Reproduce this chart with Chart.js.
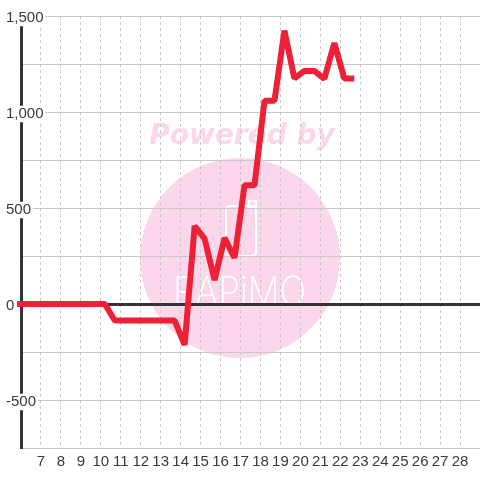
<!DOCTYPE html>
<html>
<head>
<meta charset="utf-8">
<script src="https://cdn.jsdelivr.net/npm/chart.js@4"></script>
<style>
  html, body { margin: 0; padding: 0; background: #fff; }
  #wrap { width: 480px; height: 480px; }
</style>
</head>
<body>
<div id="wrap"><canvas id="chart"></canvas></div>
<script>
// data (x = day of month, y = value)
const days   = [5.8, 10.2, 10.7, 13.7, 14.2, 14.7, 15.2, 15.7, 16.2, 16.7, 17.2, 17.7, 18.2, 18.7, 19.2, 19.7, 20.2, 20.7, 21.2, 21.7, 22.2, 22.7];
const values = [0,   0,    -86,  -86,  -213, 406,  340,  125,  344,  240,  618,  618,  1058, 1058, 1424, 1175, 1214, 1214, 1173, 1359, 1175, 1175];

const xMin = 6, xMax = 29;
const yMin = -750, yMax = 1500, yStep = 250, yLabelStep = 500;

const RED = '#ee2036';
const DARK = '#333333';
const GRID = '#c8c8c8';
const PINK = '#fcd7ec';

// background "Powered by" watermark
const watermark = {
  id: 'watermark',
  beforeDraw(chart) {
    const c = chart.ctx;
    const cx = chart.width / 2;
    c.save();
    c.fillStyle = PINK;
    c.beginPath();
    c.arc(cx, 258, 100, 0, Math.PI * 2);
    c.fill();

    c.font = 'italic bold 28px "DejaVu Sans"';
    c.textAlign = 'center';
    c.textBaseline = 'alphabetic';
    c.fillText('Powered by', cx + 2, 144);

    // phone icon
    c.strokeStyle = '#fff';
    c.lineWidth = 2;
    c.beginPath();
    c.roundRect(226, 206, 30, 50, 4);
    c.stroke();
    c.beginPath();
    c.rect(249, 201, 7, 6);
    c.stroke();

    // logo text
    c.fillStyle = '#fff';
    c.font = '200 40px Inter';
    c.textAlign = 'left';
    const w = c.measureText('RAPiMO').width;
    c.translate(173, 305);
    c.scale(133 / w, 1);
    c.fillText('RAPiMO', 0, 0);
    c.restore();
  }
};

const ctx = document.getElementById('chart').getContext('2d');
new Chart(ctx, {
  type: 'line',
  data: {
    datasets: [{
      data: days.map((d, i) => ({ x: d, y: values[i] })),
      borderColor: RED,
      borderWidth: 6,
      borderJoinStyle: 'bevel',
      pointRadius: 0,
      tension: 0,
      fill: false,
      clip: { left: 4, top: 10, right: 0, bottom: 0 }
    }]
  },
  options: {
    responsive: true,
    maintainAspectRatio: false,
    animation: false,
    layout: { padding: { top: 16, left: 0, right: 0, bottom: 0 } },
    plugins: { legend: { display: false }, tooltip: { enabled: false } },
    scales: {
      x: {
        type: 'linear',
        min: xMin,
        max: xMax,
        afterFit: (s) => { s.height = 32; s.paddingLeft = 0; s.paddingRight = 0; },
        ticks: {
          stepSize: 1,
          autoSkip: false,
          maxRotation: 0,
          padding: 5,
          color: '#3a3a3a',
          font: { family: '"Liberation Sans", Arial, sans-serif', size: 15 },
          callback: (v) => (v === xMin || v === xMax) ? '' : v
        },
        grid: {
          drawTicks: false,
          lineWidth: 1,
          color: (c) => (c.tick && (c.tick.value === xMin || c.tick.value === xMax)) ? 'rgba(0,0,0,0)' : GRID
        },
        border: { display: false, dash: [3, 3] }
      },
      y: {
        min: yMin,
        max: yMax,
        afterFit: (s) => { s.width = 21; s.paddingTop = 0; s.paddingBottom = 0; },
        ticks: {
          stepSize: yStep,
          mirror: true,
          crossAlign: 'near',
          padding: -15,
          labelOffset: 2,
          color: '#3a3a3a',
          font: { family: '"Liberation Sans", Arial, sans-serif', size: 15, lineHeight: 1.1 },
          showLabelBackdrop: true,
          backdropColor: '#ffffff',
          backdropPadding: { top: 0, bottom: 0, left: 0, right: 2 },
          callback: (v) => v % yLabelStep === 0 ? v.toLocaleString('en-US') : ''
        },
        grid: {
          drawTicks: false,
          color: (c) => (c.tick && c.tick.value === 0) ? DARK : GRID,
          lineWidth: (c) => (c.tick && c.tick.value === 0) ? 3 : 1
        },
        border: { display: true, color: DARK, width: 3 }
      }
    }
  },
  plugins: [watermark]
});
</script>
</body>
</html>
